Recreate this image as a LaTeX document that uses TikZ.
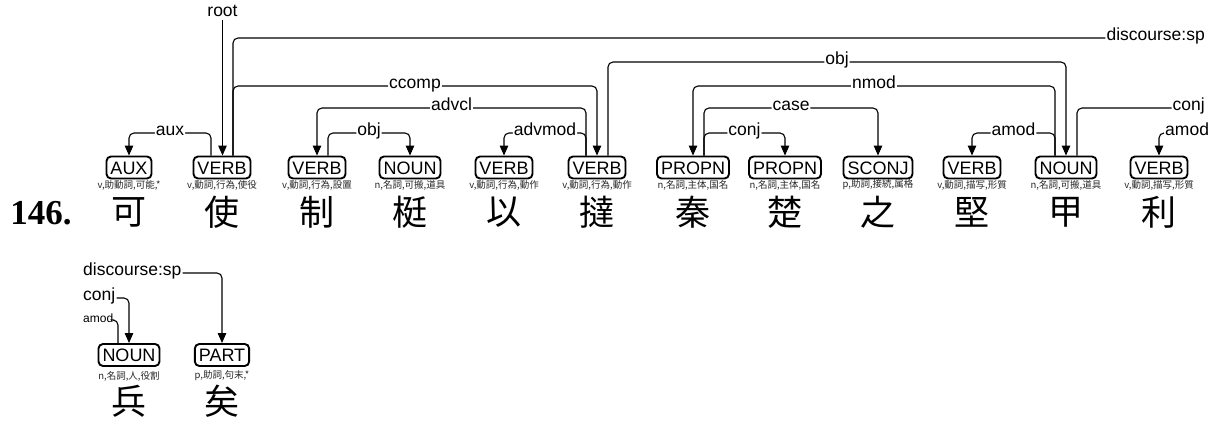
\documentclass[tikz,border=0pt]{standalone}
\usepackage{fontspec}
\setmainfont{Liberation Sans}
\newfontfamily\cjk{Noto Sans CJK JP}
\newfontfamily\numfont{Liberation Serif}
\usetikzlibrary{arrows.meta}

\begin{document}
\begin{tikzpicture}[x=1pt,y=-1pt]
        \tikzset{
            upos/.style={draw, line width=1.9pt, rounded corners=4.5pt, inner xsep=4pt, inner ysep=0pt, minimum height=22pt, text height=13pt, text depth=0pt, font=\fontsize{18}{18}\selectfont},
            feat/.style={inner sep=0pt, text=black!85, font=\cjk\fontsize{9.5}{9.5}\selectfont},
            word/.style={inner sep=0pt, font=\cjk\fontsize{35}{35}\selectfont},
            rel/.style={line width=1.1pt, rounded corners=5pt},
            dep/.style={rel, -{Triangle[length=10pt,width=8.5pt]}},
            lbl/.style={fill=white, inner sep=1pt, text height=1.4ex, text depth=0.3ex, font=\fontsize{17.5}{17.5}\selectfont},
            small/.style={lbl, font=\fontsize{12}{12}\selectfont}
        }
        \useasboundingbox (0,0) rectangle (1214,420);
        % sentence number
        \node[inner sep=0pt, font=\numfont\bfseries\fontsize{35}{35}\selectfont] (N) at (41,213.5) {146.};
        % first line
        \node[upos] (P1) at (129,167.5) {AUX};
        \node[feat] (F1) at (129,185) {v,助動詞,可能,*};
        \node[word] (W1) at (129,212.5) {可};
        \node[upos] (P2) at (222,167.5) {VERB};
        \node[feat] (F2) at (222,185) {v,動詞,行為,使役};
        \node[word] (W2) at (222,212.5) {使};
        \node[upos] (P3) at (317,167.5) {VERB};
        \node[feat] (F3) at (317,185) {v,動詞,行為,設置};
        \node[word] (W3) at (317,212.5) {制};
        \node[upos] (P4) at (410,167.5) {NOUN};
        \node[feat] (F4) at (410,185) {n,名詞,可搬,道具};
        \node[word] (W4) at (410,212.5) {梃};
        \node[upos] (P5) at (504,167.5) {VERB};
        \node[feat] (F5) at (504,185) {v,動詞,行為,動作};
        \node[word] (W5) at (504,212.5) {以};
        \node[upos] (P6) at (597,167.5) {VERB};
        \node[feat] (F6) at (597,185) {v,動詞,行為,動作};
        \node[word] (W6) at (597,212.5) {撻};
        \node[upos] (P7) at (693,167.5) {PROPN};
        \node[feat] (F7) at (693,185) {n,名詞,主体,国名};
        \node[word] (W7) at (693,212.5) {秦};
        \node[upos] (P8) at (785,167.5) {PROPN};
        \node[feat] (F8) at (785,185) {n,名詞,主体,国名};
        \node[word] (W8) at (785,212.5) {楚};
        \node[upos] (P9) at (878,167.5) {SCONJ};
        \node[feat] (F9) at (878,185) {p,助詞,接続,属格};
        \node[word] (W9) at (878,212.5) {之};
        \node[upos] (P10) at (972,167.5) {VERB};
        \node[feat] (F10) at (972,185) {v,動詞,描写,形質};
        \node[word] (W10) at (972,212.5) {堅};
        \node[upos] (P11) at (1066,167.5) {NOUN};
        \node[feat] (F11) at (1066,185) {n,名詞,可搬,道具};
        \node[word] (W11) at (1066,212.5) {甲};
        \node[upos] (P12) at (1159,167.5) {VERB};
        \node[feat] (F12) at (1159,185) {v,動詞,描写,形質};
        \node[word] (W12) at (1159,212.5) {利};
        % second line
        \node[upos] (P13) at (129,355) {NOUN};
        \node[feat] (F13) at (129,376) {n,名詞,人,役割};
        \node[word] (W13) at (129,401) {兵};
        \node[upos] (P14) at (222,355) {PART};
        \node[feat] (F14) at (222,376) {p,助詞,句末,*};
        \node[word] (W14) at (222,401) {矣};
        % relations, first line
        \node[lbl] (R) at (222.5,14) {root};
        \draw[dep] (R) -- (R |- P2.north);
        \draw[dep] ([xshift=-11pt]P2.north) -- ([xshift=-11pt]P2.north |- 0,133) -| node[lbl,pos=0.25]{aux} (P1.north);
        \draw[dep] ([xshift=11pt]P2.north) -- ([xshift=11pt]P2.north |- 0,86) -| node[lbl,pos=0.25]{ccomp} (P6.north);
        \node[lbl, anchor=east] (D1) at (1206,38) {discourse:sp};
        \draw[rel] ([xshift=11pt]P2.north) |- (D1.west);
        \draw[dep] ([xshift=11pt]P3.north) -- ([xshift=11pt]P3.north |- 0,133) -| node[lbl,pos=0.25]{obj} (P4.north);
        \draw[dep] ([xshift=-11pt]P6.north) -- ([xshift=-11pt]P6.north |- 0,108) -| node[lbl,pos=0.25]{advcl} (P3.north);
        \draw[dep] ([xshift=-11pt]P6.north) -- ([xshift=-11pt]P6.north |- 0,133) -| node[lbl,pos=0.25]{advmod} (P5.north);
        \draw[dep] ([xshift=11pt]P6.north) -- ([xshift=11pt]P6.north |- 0,62) -| node[lbl,pos=0.25]{obj} (P11.north);
        \draw[dep] ([xshift=-11pt]P11.north) -- ([xshift=-11pt]P11.north |- 0,86) -| node[lbl,pos=0.25]{nmod} (P7.north);
        \draw[dep] ([xshift=11pt]P7.north) -- ([xshift=11pt]P7.north |- 0,108) -| node[lbl,pos=0.25]{case} (P9.north);
        \draw[dep] ([xshift=11pt]P7.north) -- ([xshift=11pt]P7.north |- 0,133) -| node[lbl,pos=0.25]{conj} (P8.north);
        \draw[dep] ([xshift=-11pt]P11.north) -- ([xshift=-11pt]P11.north |- 0,133) -| node[lbl,pos=0.25]{amod} (P10.north);
        \node[lbl, anchor=east] (C1) at (1206,108) {conj};
        \draw[rel] ([xshift=11pt]P11.north) |- (C1.west);
        \node[lbl, anchor=west] (A1) at (1164,133) {amod};
        \draw[dep] (A1.west) -| (P12.north);
        % relations, second line
        \node[lbl, anchor=west] (D2) at (82,273) {discourse:sp};
        \draw[dep] (D2.east) -| (P14.north);
        \node[lbl, anchor=west] (C2) at (82,298) {conj};
        \draw[dep] (C2.east) -| (P13.north);
        \node[small, anchor=west] (A2) at (82,320) {amod};
        \draw[rel] ([xshift=-11pt]P13.north) |- (A2.east);
\end{tikzpicture}
\end{document}
